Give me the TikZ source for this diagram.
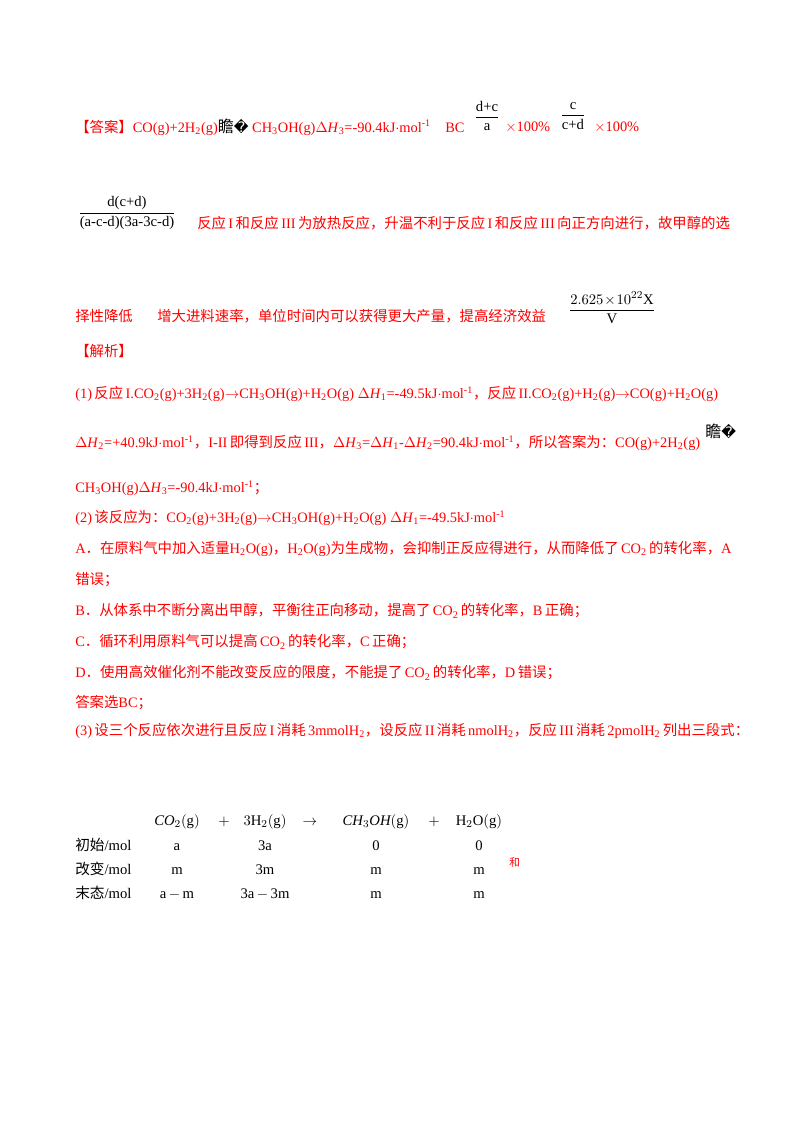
\documentclass[tikz,border=0pt]{standalone}
\usepackage{amsmath}
\usepackage{fontspec}
\setmainfont{Liberation Serif}
\newfontfamily\cjk{Noto Sans CJK SC}
\newfontfamily\djv{DejaVu Sans}
\newcommand{\zh}[1]{{\cjk #1}}
\newcommand{\sbs}[1]{\textsubscript{#1}}
\newcommand{\sps}[1]{\textsuperscript{#1}}
\newcommand{\dH}[1]{$\Delta$\textit{H}\sbs{#1}}
\newcommand{\weird}{\textcolor{black}{{\large\zh{瞻}}{\djv\char"FFFD}}}
\begin{document}
\begin{tikzpicture}[x=0.75pt,y=-0.75pt,
  t/.style={anchor=west,inner sep=0pt,text=red,font=\fontsize{10.8pt}{12pt}\selectfont},
  k/.style={anchor=base,inner sep=0pt,font=\fontsize{11pt}{12pt}\selectfont},
  fr/.style={anchor=center,inner sep=0pt,font=\fontsize{11pt}{12pt}\selectfont}]
\useasboundingbox (0,0) rectangle (800,1132);
\node[t] (l1) at (75,127) {\zh{【答案】}CO(g)+2H\sbs2(g)\weird\ CH\sbs3OH(g)\dH3=-90.4kJ$\cdot$mol\sps{-1}\quad BC};
\node[fr] (f1) at (487,116) {$\dfrac{\text{d+c}}{\text{a}}$};
\node[t] (p1) at (505,127) {$\times$100\%};
\node[fr] (f2) at (573,116) {$\dfrac{\text{c}}{\text{c+d}}$};
\node[t] (p2) at (594,127) {$\times$100\%};
\node[fr] (f3) at (127,213) {$\dfrac{\text{d(c+d)}}{\text{(a-c-d)(3a-3c-d)}}$};
\node[t] (l2) at (197,223) {\zh{反应}\,I\,\zh{和反应}\,III\,\zh{为放热反应，升温不利于反应}\,I\,\zh{和反应}\,III\,\zh{向正方向进行，故甲醇的选}};
\node[t] (l3) at (75,316) {\zh{择性降低}};
\node[t] (l3b) at (157,316) {\zh{增大进料速率，单位时间内可以获得更大产量，提高经济效益}};
\node[fr] (f4) at (612,308) {$\dfrac{2.625\!\times\!10^{22}\text{X}}{\text{V}}$};
\node[t] (l4) at (75,351) {\zh{【解析】}};
\node[t] (l5) at (75,394) {(1)\,\zh{反应}\,I.CO\sbs2(g)+3H\sbs2(g)$\rightarrow$CH\sbs3OH(g)+H\sbs2O(g) \dH1=-49.5kJ$\cdot$mol\sps{-1}\zh{，反应}\,II.CO\sbs2(g)+H\sbs2(g)$\rightarrow$CO(g)+H\sbs2O(g)};
\node[t] (l6) at (75,443) {\dH2=+40.9kJ$\cdot$mol\sps{-1}\zh{，}I-II\,\zh{即得到反应}\,III\zh{，}\dH3=\dH1-\dH2=90.4kJ$\cdot$mol\sps{-1}\zh{，所以答案为：}CO(g)+2H\sbs2(g)};
\node[anchor=west,inner sep=0pt,font=\fontsize{10.8pt}{12pt}\selectfont] (w2) at (705,431) {\weird};
\node[t] (l7) at (75,488) {CH\sbs3OH(g)\dH3=-90.4kJ$\cdot$mol\sps{-1}\zh{；}};
\node[t] (l8) at (75,518) {(2)\,\zh{该反应为：}CO\sbs2(g)+3H\sbs2(g)$\rightarrow$CH\sbs3OH(g)+H\sbs2O(g) \dH1=-49.5kJ$\cdot$mol\sps{-1}};
\node[t] (l9) at (75,549) {A\zh{．在原料气中加入适量}H\sbs2O(g)\zh{，}H\sbs2O(g)\zh{为生成物，会抑制正反应得进行，从而降低了}\,CO\sbs2\,\zh{的转化率，}A};
\node[t] (l10) at (75,580) {\zh{错误；}};
\node[t] (l11) at (75,611) {B\zh{．从体系中不断分离出甲醇，平衡往正向移动，提高了}\,CO\sbs2\,\zh{的转化率，}B\,\zh{正确；}};
\node[t] (l12) at (75,642) {C\zh{．循环利用原料气可以提高}\,CO\sbs2\,\zh{的转化率，}C\,\zh{正确；}};
\node[t] (l13) at (75,673) {D\zh{．使用高效催化剂不能改变反应的限度，不能提了}\,CO\sbs2\,\zh{的转化率，}D\,\zh{错误；}};
\node[t] (l14) at (75,703) {\zh{答案选}BC\zh{；}};
\node[t] (l15) at (75,731) {(3)\,\zh{设三个反应依次进行且反应}\,I\,\zh{消耗}\,3mmolH\sbs2\zh{，设反应}\,II\,\zh{消耗}\,nmolH\sbs2\zh{，反应}\,III\,\zh{消耗}\,2pmolH\sbs2\,\zh{列出三段式：}};
% table
\node[k] (h1) at (177,825) {$\mathit{CO}_2\!\left(\mathrm{g}\right)$};
\node[k] (h2) at (224,825) {$+$};
\node[k] (h3) at (265,825) {$3\mathrm{H}_2\!\left(\mathrm{g}\right)$};
\node[k] (h4) at (310,825) {$\rightarrow$};
\node[k] (h5) at (376,825) {$\mathit{CH}_3\mathit{OH}\!\left(\mathrm{g}\right)$};
\node[k] (h6) at (434,825) {$+$};
\node[k] (h7) at (479,825) {$\mathrm{H}_2\mathrm{O}\!\left(\mathrm{g}\right)$};
\foreach \r/\y/\lab/\a/\b/\c/\d in {1/850/初始/a/3a/0/0, 2/874/改变/m/3m/m/m, 3/898/末态/a\,$-$\,m/3a\,$-$\,3m/m/m}{
  \node[anchor=base west,inner sep=0pt,font=\fontsize{11pt}{12pt}\selectfont] (r\r) at (75,\y) {\zh{\lab}/mol};
  \node[k] (ra\r) at (177,\y) {\a};
  \node[k] (rb\r) at (265,\y) {\b};
  \node[k] (rc\r) at (376,\y) {\c};
  \node[k] (rd\r) at (479,\y) {\d};
}
\node[anchor=west,inner sep=0pt,text=red,font=\fontsize{8pt}{10pt}\selectfont] (he) at (509,862) {\zh{和}};
\end{tikzpicture}
\end{document}
